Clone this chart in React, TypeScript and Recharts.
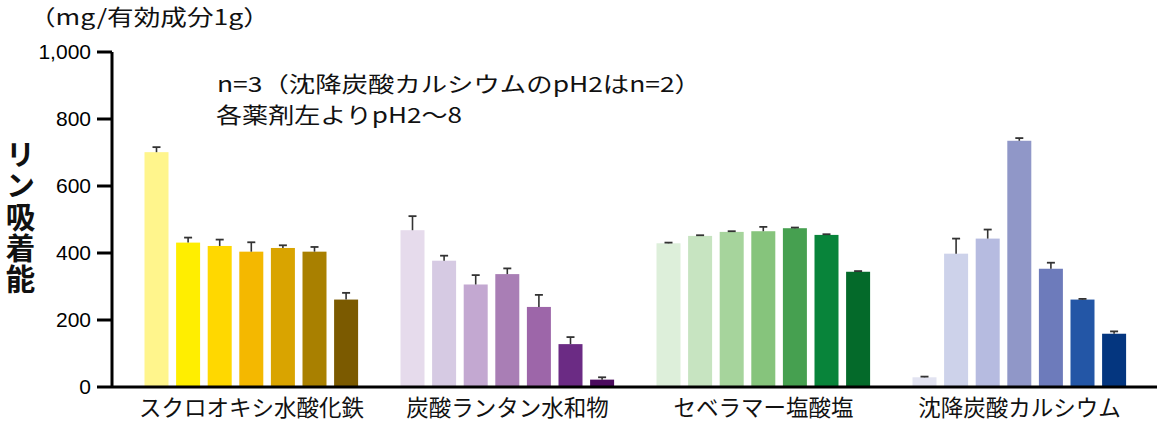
import React from 'react';
import { BarChart, Bar, XAxis, YAxis } from 'recharts';

const categories = ['スクロオキシ水酸化鉄', '炭酸ランタン水和物', 'セベラマー塩酸塩', '沈降炭酸カルシウム'];
const phLevels = ['pH2', 'pH3', 'pH4', 'pH5', 'pH6', 'pH7', 'pH8'];
const yTicks = [0, 200, 400, 600, 800, 1000];

const ironValues = [701, 431, 421, 404, 415, 404, 261];
const ironErrors = [15, 15, 19, 28, 8, 14, 20];
const lanthanumValues = [468, 377, 306, 337, 239, 128, 22];
const lanthanumErrors = [42, 15, 28, 17, 36, 21, 7];
const sevelamerValues = [429, 451, 463, 465, 474, 454, 344];
const sevelamerErrors = [2, 2, 2, 13, 2, 2, 2];
const calciumValues = [29, 398, 443, 735, 353, 261, 159];
const calciumErrors = [2, 45, 27, 8, 18, 2, 7];

const ironColors = ['#FFF58C', '#FFEE00', '#FFD800', '#F4B800', '#D9A400', '#A98000', '#7B5A00'];
const lanthanumColors = ['#E6DBEC', '#D6CAE3', '#C3A8D1', '#A97EB5', '#9D66A9', '#6B2B84', '#4B0B5E'];
const sevelamerColors = ['#DDEFDA', '#C7E4C1', '#A6D49C', '#86C47C', '#46A050', '#08843A', '#046A2A'];
const calciumColors = ['#E2E3F1', '#CDD2EA', '#B6BBE0', '#9097C8', '#6D7BBB', '#2356A6', '#04367F'];

const groupValues = [ironValues, lanthanumValues, sevelamerValues, calciumValues];
const groupErrors = [ironErrors, lanthanumErrors, sevelamerErrors, calciumErrors];
const groupColors = [ironColors, lanthanumColors, sevelamerColors, calciumColors];

const data = categories.map((name, ci) => {
  const row: Record<string, any> = { name };
  phLevels.forEach((ph, pi) => {
    row[ph] = groupValues[ci][pi];
    row[ph + 'Err'] = groupErrors[ci][pi];
  });
  return row;
});

const JP = '"Noto Sans CJK JP", "Noto Sans", sans-serif';

function makeShape(pi: number) {
  return (props: any) => {
    const { x, y, width, height, index, payload } = props;
    const key = phLevels[pi];
    const value = payload[key];
    const err = payload[key + 'Err'];
    const unit = value > 0 ? height / value : 0;
    const top = y - err * unit;
    const cx = x + width / 2;
    return (
      <g>
        <rect x={x} y={y} width={width} height={height} fill={groupColors[index][pi]} />
        <line x1={cx} x2={cx} y1={y} y2={top} stroke="#333" strokeWidth={1.6} />
        <line x1={cx - 4} x2={cx + 4} y1={top} y2={top} stroke="#333" strokeWidth={1.8} />
      </g>
    );
  };
}

const CategoryTick = (props: any) => {
  const { x, y, payload } = props;
  return (
    <text x={x} y={y + 29} textAnchor="middle" fontSize={22.5} fontFamily={JP} fill="#111">
      {payload.value}
    </text>
  );
};

export default function App() {
  return (
    <div style={{ position: 'absolute', left: 0, top: 0, width: 1157, height: 427, background: '#fff' }}>
      <BarChart
        width={1157}
        height={427}
        data={data}
        margin={{ top: 52, right: 0, bottom: 0, left: 0 }}
        barGap={7.6}
        barCategoryGap={21}
      >
        <XAxis
          dataKey="name"
          height={40}
          padding={{ left: 11.5, right: 9.5 }}
          axisLine={{ stroke: '#000', strokeWidth: 3 }}
          tickLine={false}
          tickSize={0}
          tickMargin={0}
          interval={0}
          tick={<CategoryTick />}
        />
        <YAxis
          width={112}
          domain={[0, 1000]}
          ticks={yTicks}
          interval={0}
          tickFormatter={(v: number) => v.toLocaleString('en-US')}
          axisLine={{ stroke: '#000', strokeWidth: 3 }}
          tickLine={{ stroke: '#000', strokeWidth: 3 }}
          tickSize={15}
          tickMargin={6}
          tick={{ fill: '#000', fontSize: 21, fontFamily: '"Liberation Sans", Arial, sans-serif' }}
        />
        {phLevels.map((ph, pi) => (
          <Bar key={ph} dataKey={ph} barSize={24} isAnimationActive={false} shape={makeShape(pi)} />
        ))}
      </BarChart>
      <svg
        width={1157}
        height={427}
        style={{ position: 'absolute', left: 0, top: 0, pointerEvents: 'none' }}
      >
        <text x={29} y={25} fontSize={21.5} fontFamily={JP} fill="#111" textLength={241} lengthAdjust="spacingAndGlyphs">
          （mg/有効成分1g）
        </text>
        <text fontSize={21.3} fontFamily={JP} fill="#111">
          <tspan x={217} y={91.5} textLength={484} lengthAdjust="spacingAndGlyphs">
            n=3（沈降炭酸カルシウムのpH2はn=2）
          </tspan>
          <tspan x={216} y={122.5} textLength={246} lengthAdjust="spacingAndGlyphs">
            各薬剤左よりpH2〜8
          </tspan>
        </text>
        <text
          x={20.5}
          y={139}
          fontSize={29.5}
          fontWeight="bold"
          fontFamily={JP}
          fill="#111"
          letterSpacing={1.8}
          style={{ writingMode: 'vertical-rl' }}
        >
          リン吸着能
        </text>
      </svg>
    </div>
  );
}
